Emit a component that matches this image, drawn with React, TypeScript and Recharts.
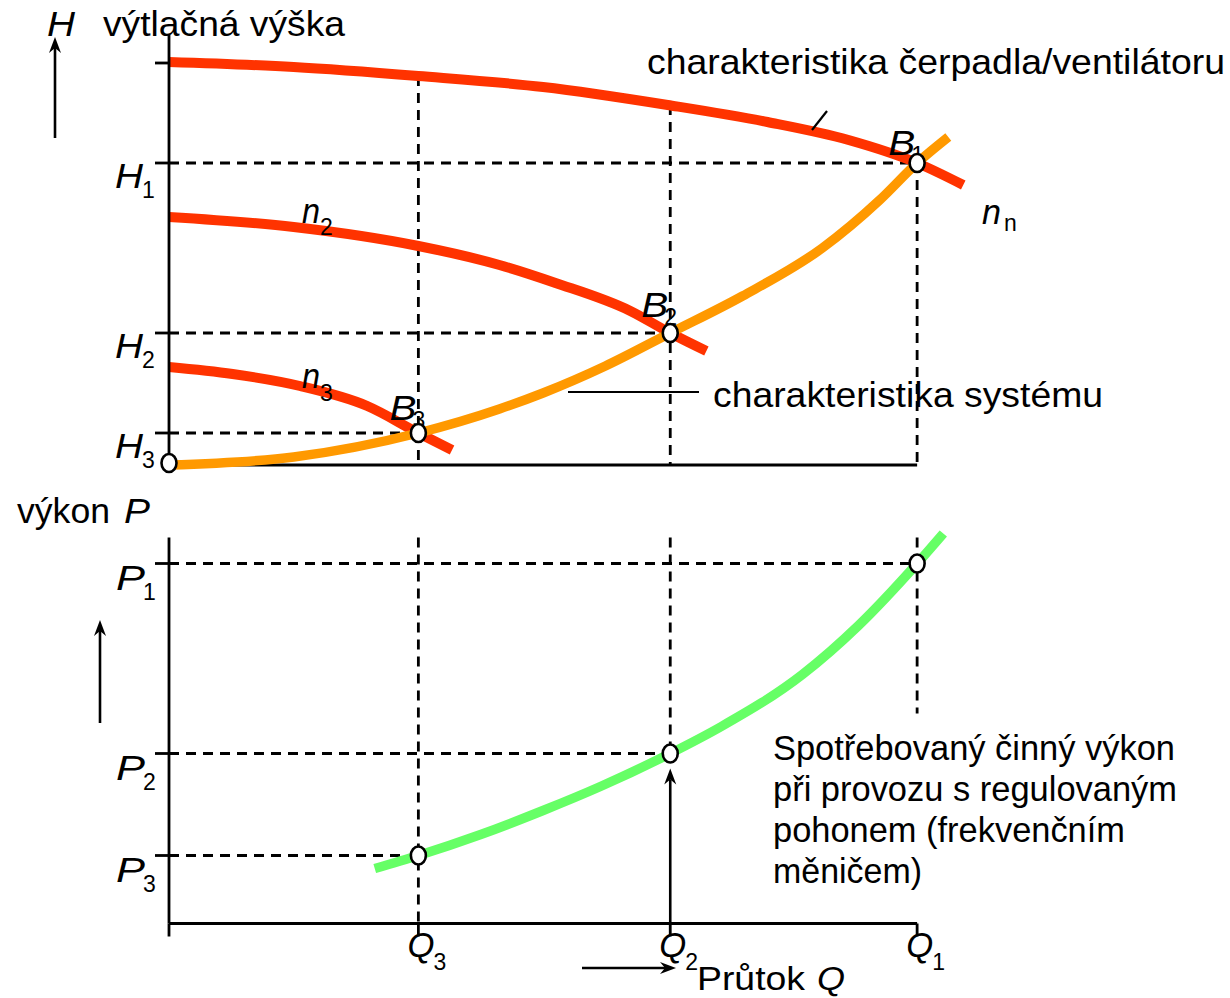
import React from "react";
import { LineChart, Line, XAxis, YAxis, ReferenceLine, ReferenceDot } from "recharts";

const FONT = '"Liberation Sans", Arial, Helvetica, sans-serif';

// ---- data (x = průtok Q, y = H or P in chart units) ----
const pumpNn = [
  { x: 0, y: 40.3 }, { x: 1, y: 39.8 }, { x: 2, y: 38.9 }, { x: 3, y: 37.8 },
  { x: 4, y: 36.0 }, { x: 4.8, y: 34.3 }, { x: 5.45, y: 32.5 }, { x: 6, y: 30.2 }, { x: 6.37, y: 28.0 },
];
const pumpN2 = [
  { x: 0, y: 24.8 }, { x: 1, y: 23.8 }, { x: 2, y: 21.9 }, { x: 2.65, y: 20.0 },
  { x: 3.1, y: 18.2 }, { x: 3.7, y: 15.4 }, { x: 4.02, y: 13.2 }, { x: 4.31, y: 11.4 },
];
const pumpN3 = [
  { x: 0, y: 9.8 }, { x: 0.51, y: 9.1 }, { x: 1.05, y: 7.9 }, { x: 1.59, y: 5.9 },
  { x: 2, y: 3.2 }, { x: 2.27, y: 1.5 },
];
const system = [
  { x: 0, y: 0 }, { x: 1, y: 0.8 }, { x: 2, y: 3.2 }, { x: 2.65, y: 5.6 }, { x: 3.0, y: 7.2 },
  { x: 3.5, y: 9.9 }, { x: 4.02, y: 13.2 }, { x: 4.6, y: 16.9 }, { x: 5.24, y: 21.7 },
  { x: 5.7, y: 26.5 }, { x: 6, y: 30.2 }, { x: 6.25, y: 32.8 },
];
const power = [
  { x: 1.65, y: 5.5 }, { x: 2, y: 6.8 }, { x: 2.5, y: 8.9 }, { x: 3, y: 11.3 }, { x: 3.46, y: 13.7 },
  { x: 4.02, y: 17 }, { x: 4.43, y: 19.7 }, { x: 5.08, y: 24.9 }, { x: 5.53, y: 29.8 },
  { x: 6, y: 36 }, { x: 6.21, y: 39.0 },
];

const qValues = [2, 4.02, 6]; // Q3, Q2, Q1
const qSubs = ["3", "2", "1"];
const hValues = [3.2, 13.2, 30.2]; // H3, H2, H1
const hSubs = ["3", "2", "1"];
const hTopTick = 40.2;
const pValues = [6.8, 17, 36]; // P3, P2, P1
const pSubs = ["3", "2", "1"];
const topXTicks = [0, 1, 2, 3, 4.02, 5, 6];
const bottomXTicks = [0, 2, 4.02, 6];
const bPoints = [
  { x: 0, y: 0.2, label: "" },
  { x: 2, y: 3.2, label: "3" },
  { x: 4.02, y: 13.2, label: "2" },
  { x: 6, y: 30.2, label: "1" },
];
const bLabelRaise = [0, 13, 16, 8];
const pPoints = [
  { x: 2, y: 6.8 },
  { x: 4.02, y: 17 },
  { x: 6, y: 36 },
];

const RED = "#ff3300";
const ORANGE = "#ff9900";
const GREEN = "#66ff66";
const DASH = "10 7";
const SW = 2.8;
const FS = 35;
const SUB = 23;

function T({ x, y, s = FS, i = false, w, children, anchor }: any) {
  return (
    <text
      x={x}
      y={y}
      fontSize={s}
      fontStyle={i ? "italic" : "normal"}
      fontFamily={FONT}
      fill="#000"
      textAnchor={anchor || "start"}
      textLength={w}
      lengthAdjust={w ? "spacingAndGlyphs" : undefined}
    >
      {children}
    </text>
  );
}

function Arrow({ x1, y1, x2, y2 }: any) {
  const dx = x2 - x1;
  const dy = y2 - y1;
  const len = Math.sqrt(dx * dx + dy * dy) || 1;
  const ux = dx / len;
  const uy = dy / len;
  const px = -uy;
  const py = ux;
  const L = 16;
  const W = 6;
  const N = 11;
  const bx = x2 - ux * L;
  const by = y2 - uy * L;
  const nx = x2 - ux * N;
  const ny = y2 - uy * N;
  const d = `M${x2},${y2} L${bx + px * W},${by + py * W} L${nx},${ny} L${bx - px * W},${by - py * W} Z`;
  return (
    <g>
      <line x1={x1} y1={y1} x2={nx} y2={ny} stroke="#000" strokeWidth={2.6} />
      <path d={d} fill="#000" />
    </g>
  );
}

function Ell({ cx, cy }: any) {
  return <ellipse cx={cx} cy={cy} rx={7.5} ry={9} fill="#fff" stroke="#000" strokeWidth={2.6} />;
}

function HTick(props: any) {
  const { x, y, payload } = props;
  const idx = hValues.indexOf(payload.value);
  if (idx < 0) return <g />;
  return (
    <g>
      <T x={x - 38} y={y + 25} i w={28}>H</T>
      <T x={x - 11} y={y + 35} s={SUB}>{hSubs[idx]}</T>
    </g>
  );
}

function PTick(props: any) {
  const { x, y, payload } = props;
  const idx = pValues.indexOf(payload.value);
  if (idx < 0) return <g />;
  return (
    <g>
      <T x={x - 37} y={y + 26} i w={29}>P</T>
      <T x={x - 10} y={y + 36} s={SUB}>{pSubs[idx]}</T>
    </g>
  );
}

function QTick(props: any) {
  const { x, y, payload } = props;
  const idx = qValues.indexOf(payload.value);
  if (idx < 0) return <g />;
  return (
    <g>
      <T x={x - 11} y={y + 18} i w={27}>Q</T>
      <T x={x + 15} y={y + 31} s={SUB}>{qSubs[idx]}</T>
    </g>
  );
}

const dashed = { stroke: "#000", strokeWidth: SW, strokeDasharray: DASH };

export default function App() {
  const Q1 = qValues[2], Q2 = qValues[1], Q3 = qValues[0];
  const H1 = hValues[2], H2 = hValues[1], H3 = hValues[0];
  const P1 = pValues[2], P2 = pValues[1], P3 = pValues[0];
  return (
    <div style={{ position: "absolute", left: 0, top: 0, width: 1230, height: 998, background: "#fff" }}>
      {/* top chart: H vs Q */}
      <div style={{ position: "absolute", left: 0, top: 0 }}>
        <LineChart width={1230} height={485} margin={{ top: 35, right: 263, left: 109, bottom: 0 }}>
          <XAxis
            type="number"
            dataKey="x"
            domain={[0, 6.4]}
            ticks={topXTicks}
            axisLine={false}
            tick={false}
            tickSize={13}
            tickLine={{ stroke: "#000", strokeWidth: SW }}
            height={20}
          />
          <YAxis
            type="number"
            dataKey="y"
            domain={[0, 43]}
            ticks={[H3, H2, H1, hTopTick]}
            width={60}
            tickSize={14}
            axisLine={{ stroke: "#000", strokeWidth: SW }}
            tickLine={{ stroke: "#000", strokeWidth: SW }}
            tick={<HTick />}
            interval={0}
          />
          <ReferenceLine segment={[{ x: 0, y: 0 }, { x: Q1, y: 0 }]} stroke="#000" strokeWidth={SW} />
          <ReferenceLine segment={[{ x: 0, y: H1 }, { x: Q1, y: H1 }]} {...dashed} />
          <ReferenceLine segment={[{ x: 0, y: H2 }, { x: Q2, y: H2 }]} {...dashed} />
          <ReferenceLine segment={[{ x: 0, y: H3 }, { x: Q3, y: H3 }]} {...dashed} />
          <ReferenceLine segment={[{ x: Q3, y: 38.9 }, { x: Q3, y: 0 }]} {...dashed} />
          <ReferenceLine segment={[{ x: Q2, y: 36.0 }, { x: Q2, y: 0 }]} {...dashed} />
          <ReferenceLine segment={[{ x: Q1, y: H1 }, { x: Q1, y: 0 }]} {...dashed} />
          <Line data={pumpNn} dataKey="y" type="monotone" stroke={RED} strokeWidth={10} dot={false} activeDot={false} isAnimationActive={false} />
          <Line data={pumpN2} dataKey="y" type="monotone" stroke={RED} strokeWidth={10} dot={false} activeDot={false} isAnimationActive={false} />
          <Line data={pumpN3} dataKey="y" type="monotone" stroke={RED} strokeWidth={10} dot={false} activeDot={false} isAnimationActive={false} />
          <Line data={system} dataKey="y" type="monotone" stroke={ORANGE} strokeWidth={9.5} dot={false} activeDot={false} isAnimationActive={false} />
          {bPoints.map((p, k) => (
            <ReferenceDot
              key={k}
              x={p.x}
              y={p.y}
              r={9}
              ifOverflow="visible"
              shape={(s: any) => (
                <g>
                  {p.label ? (
                    <g>
                      <T x={s.cx - 29} y={s.cy - bLabelRaise[k]} i w={27}>B</T>
                      <T x={s.cx - 6} y={s.cy - bLabelRaise[k] + 8} s={SUB}>{p.label}</T>
                    </g>
                  ) : null}
                  <Ell cx={s.cx} cy={s.cy} />
                </g>
              )}
            />
          ))}
        </LineChart>
      </div>

      {/* bottom chart: P vs Q */}
      <div style={{ position: "absolute", left: 0, top: 490 }}>
        <LineChart width={1230} height={508} margin={{ top: 13.5, right: 263, left: 109, bottom: 0 }}>
          <XAxis
            type="number"
            dataKey="x"
            domain={[0, 6.4]}
            ticks={bottomXTicks}
            axisLine={false}
            tickSize={13}
            tickLine={{ stroke: "#000", strokeWidth: SW }}
            tick={<QTick />}
            interval={0}
            height={74.5}
          />
          <YAxis
            type="number"
            dataKey="y"
            domain={[0, 42]}
            ticks={pValues}
            width={60}
            tickSize={14}
            axisLine={false}
            tickLine={{ stroke: "#000", strokeWidth: SW }}
            tick={<PTick />}
            interval={0}
          />
          <ReferenceLine segment={[{ x: 0, y: 0 }, { x: Q1, y: 0 }]} stroke="#000" strokeWidth={SW} />
          <ReferenceLine segment={[{ x: 0, y: 0 }, { x: 0, y: 38.6 }]} stroke="#000" strokeWidth={SW} />
          <ReferenceLine segment={[{ x: 0, y: P1 }, { x: Q1, y: P1 }]} {...dashed} />
          <ReferenceLine segment={[{ x: 0, y: P2 }, { x: Q2, y: P2 }]} {...dashed} />
          <ReferenceLine segment={[{ x: 0, y: P3 }, { x: Q3, y: P3 }]} {...dashed} />
          <ReferenceLine segment={[{ x: Q3, y: 38.6 }, { x: Q3, y: 0 }]} {...dashed} />
          <ReferenceLine segment={[{ x: Q2, y: 38.6 }, { x: Q2, y: P2 }]} {...dashed} />
          <ReferenceLine segment={[{ x: Q1, y: 38.6 }, { x: Q1, y: 21 }]} {...dashed} />
          <ReferenceLine
            segment={[{ x: Q2, y: 0 }, { x: Q2, y: P2 - 1.5 }]}
            stroke="#000"
            strokeWidth={SW}
            shape={(s: any) => <Arrow x1={s.x1} y1={s.y1} x2={s.x2} y2={s.y2} />}
          />
          <Line data={power} dataKey="y" type="monotone" stroke={GREEN} strokeWidth={9.5} dot={false} activeDot={false} isAnimationActive={false} />
          {pPoints.map((p, k) => (
            <ReferenceDot key={k} x={p.x} y={p.y} r={9} ifOverflow="visible" shape={(s: any) => <Ell cx={s.cx} cy={s.cy} />} />
          ))}
        </LineChart>
      </div>

      {/* annotations */}
      <svg width={1230} height={998} style={{ position: "absolute", left: 0, top: 0, pointerEvents: "none" }}>
        <T x={47} y={36} i w={28}>H</T>
        <T x={103} y={36} w={242}>výtlačná výška</T>
        <Arrow x1={55} y1={138} x2={55} y2={37} />
        <T x={647} y={74} w={578}>charakteristika čerpadla/ventilátoru</T>
        <line x1={812} y1={130} x2={827} y2={111} stroke="#000" strokeWidth={2.2} />
        <T x={982} y={224} i w={19}>n</T>
        <T x={1004} y={231} s={SUB}>n</T>
        <T x={302} y={223} i w={18}>n</T>
        <T x={320} y={235} s={SUB}>2</T>
        <T x={302} y={388} i w={18}>n</T>
        <T x={320} y={401} s={SUB}>3</T>
        <line x1={568} y1={392} x2={699} y2={392} stroke="#000" strokeWidth={2.2} />
        <T x={713} y={407} w={390}>charakteristika systému</T>
        <T x={17} y={523} w={93}>výkon</T>
        <T x={124} y={523} i w={26}>P</T>
        <Arrow x1={100} y1={723} x2={100} y2={620} />
        <T x={773} y={760} s={35} w={402}>Spotřebovaný činný výkon</T>
        <T x={773} y={801} s={35} w={404}>při provozu s regulovaným</T>
        <T x={773} y={842} s={35} w={352}>pohonem (frekvenčním</T>
        <T x={773} y={883} s={35} w={149}>měničem)</T>
        <Arrow x1={582} y1={968} x2={676} y2={968} />
        <T x={697} y={990} s={33} w={108}>Průtok</T>
        <T x={817} y={990} s={33} i w={28}>Q</T>
      </svg>
    </div>
  );
}
